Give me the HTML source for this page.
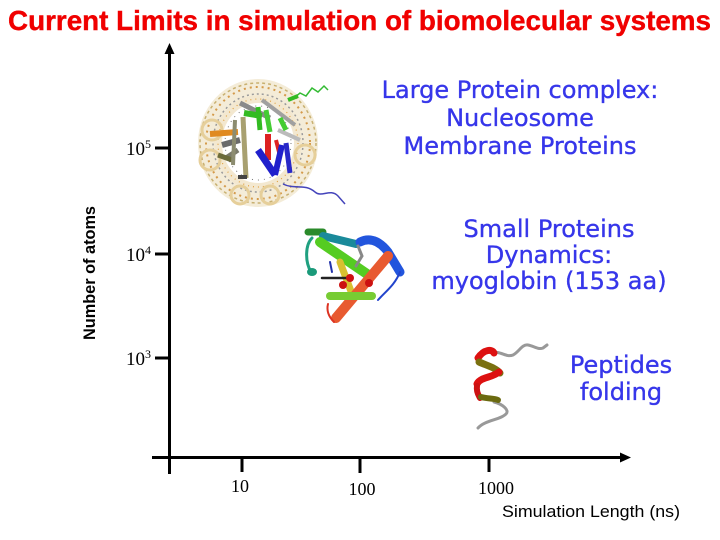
<!DOCTYPE html>
<html>
<head>
<meta charset="utf-8">
<style>
  html, body { margin: 0; padding: 0; background: #ffffff; }
  body { width: 720px; height: 540px; overflow: hidden; }
  svg { display: block; }
</style>
</head>
<body>
<svg width="720" height="540" viewBox="0 0 720 540" xmlns="http://www.w3.org/2000/svg">
  <rect x="0" y="0" width="720" height="540" fill="#ffffff"/>

  <!-- Title -->
  <text x="8" y="30" font-family="Liberation Sans, Arial, sans-serif" font-weight="bold" font-size="28" fill="#f00000" stroke="#f00000" stroke-width="0.4" textLength="703" lengthAdjust="spacingAndGlyphs">Current Limits in simulation of biomolecular systems</text>

  <!-- Axes -->
  <line x1="169.5" y1="51" x2="169.5" y2="474" stroke="#000" stroke-width="3"/>
  <polygon points="169.5,43 164.5,54 174.5,54" fill="#000"/>
  <line x1="152" y1="457.5" x2="622" y2="457.5" stroke="#000" stroke-width="3"/>
  <polygon points="631,457.5 620,452.5 620,462.5" fill="#000"/>

  <!-- Y ticks -->
  <line x1="155" y1="148" x2="170" y2="148" stroke="#000" stroke-width="3"/>
  <line x1="155" y1="254" x2="170" y2="254" stroke="#000" stroke-width="3"/>
  <line x1="155" y1="358" x2="170" y2="358" stroke="#000" stroke-width="3"/>

  <!-- X ticks -->
  <line x1="242" y1="457" x2="242" y2="472" stroke="#000" stroke-width="3"/>
  <line x1="360" y1="457" x2="360" y2="473" stroke="#000" stroke-width="3"/>
  <line x1="489" y1="457" x2="489" y2="472" stroke="#000" stroke-width="3"/>

  <!-- Y tick labels -->
  <g font-family="Liberation Serif, Times New Roman, serif" fill="#000">
    <text x="126" y="155" font-size="19">10</text><text x="145" y="148" font-size="12">5</text>
    <text x="126" y="261" font-size="19">10</text><text x="145" y="254" font-size="12">4</text>
    <text x="126" y="365" font-size="19">10</text><text x="145" y="358" font-size="12">3</text>
  </g>

  <!-- X tick labels -->
  <g font-family="Liberation Serif, Times New Roman, serif" fill="#000" font-size="18" text-anchor="middle">
    <text x="240" y="492">10</text>
    <text x="362" y="495">100</text>
    <text x="496" y="494">1000</text>
  </g>

  <!-- Axis titles -->
  <text x="502" y="517" font-family="Liberation Sans, Arial, sans-serif" font-size="17" fill="#000" textLength="178" lengthAdjust="spacingAndGlyphs">Simulation Length (ns)</text>
  <text transform="translate(95,340) rotate(-90)" font-family="Liberation Sans, Arial, sans-serif" font-weight="bold" font-size="16.5" fill="#000" textLength="134" lengthAdjust="spacingAndGlyphs">Number of atoms</text>

  <!-- Blue annotations -->
  <g font-family="DejaVu Sans, Verdana, sans-serif" font-size="24" fill="#3636ea" stroke="#3636ea" stroke-width="0.35" text-anchor="middle">
    <text x="520" y="98">Large Protein complex:</text>
    <text x="520" y="126">Nucleosome</text>
    <text x="520" y="154">Membrane Proteins</text>

    <text x="549" y="237">Small Proteins</text>
    <text x="549" y="263">Dynamics:</text>
    <text x="549" y="289">myoglobin (153 aa)</text>

    <text x="621" y="373">Peptides</text>
    <text x="621" y="400">folding</text>
  </g>

  <!-- Nucleosome illustration -->
  <g>
    <ellipse cx="258" cy="143" rx="52" ry="56" fill="none" stroke="#f4ecd8" stroke-width="16"/>
    <ellipse cx="258" cy="143" rx="52" ry="56" fill="none" stroke="#d49a4a" stroke-width="2" stroke-dasharray="2 4"/>
    <ellipse cx="258" cy="143" rx="58" ry="60" fill="none" stroke="#c8b070" stroke-width="1.5" stroke-dasharray="3 3"/>
    <ellipse cx="258" cy="143" rx="45" ry="49" fill="none" stroke="#9a9a9a" stroke-width="1.5" stroke-dasharray="2 3"/>
    <ellipse cx="258" cy="143" rx="40" ry="44" fill="none" stroke="#f3e8d0" stroke-width="8"/>
    <ellipse cx="258" cy="143" rx="40" ry="44" fill="none" stroke="#e0a040" stroke-width="1.2" stroke-dasharray="1 4"/>
    <ellipse cx="258" cy="143" rx="33" ry="37" fill="none" stroke="#777" stroke-width="1" stroke-dasharray="1 5"/>
    <circle cx="210" cy="160" r="10" fill="none" stroke="#e6cf9a" stroke-width="3"/>
    <circle cx="212" cy="130" r="10" fill="none" stroke="#e6cf9a" stroke-width="3"/>
    <circle cx="305" cy="155" r="10" fill="none" stroke="#e6cf9a" stroke-width="3"/>
    <circle cx="240" cy="195" r="9" fill="none" stroke="#e6cf9a" stroke-width="3"/>
    <circle cx="270" cy="195" r="9" fill="none" stroke="#e6cf9a" stroke-width="3"/>
    <!-- gray rods top -->
    <line x1="240" y1="103" x2="270" y2="118" stroke="#8a8a8a" stroke-width="5"/>
    <line x1="262" y1="100" x2="295" y2="125" stroke="#a0a0a0" stroke-width="4"/>
    <line x1="278" y1="130" x2="300" y2="140" stroke="#bbbbbb" stroke-width="4"/>
    <!-- orange -->
    <line x1="210" y1="134" x2="238" y2="132" stroke="#e08a20" stroke-width="6"/>
    <!-- gray rods left -->
    <line x1="222" y1="145" x2="240" y2="140" stroke="#6a6a6a" stroke-width="6"/>
    <line x1="226" y1="158" x2="238" y2="150" stroke="#7a7a6a" stroke-width="5"/>
    <line x1="218" y1="155" x2="232" y2="160" stroke="#6b6b3a" stroke-width="5"/>
    <!-- khaki vertical rods -->
    <line x1="243" y1="117" x2="246" y2="178" stroke="#a8a070" stroke-width="5"/>
    <line x1="235" y1="120" x2="233" y2="165" stroke="#8c8c70" stroke-width="4"/>
    <rect x="238" y="175" width="9" height="4" fill="#444"/>
    <!-- green bars -->
    <line x1="244" y1="113" x2="262" y2="116" stroke="#33bb22" stroke-width="6"/>
    <line x1="258" y1="107" x2="260" y2="130" stroke="#33bb22" stroke-width="5"/>
    <line x1="266" y1="110" x2="270" y2="132" stroke="#44cc33" stroke-width="5"/>
    <line x1="280" y1="118" x2="286" y2="130" stroke="#44cc33" stroke-width="5"/>
    <!-- red -->
    <line x1="268" y1="134" x2="268" y2="160" stroke="#dd2222" stroke-width="6"/>
    <line x1="276" y1="140" x2="280" y2="156" stroke="#dd2222" stroke-width="4"/>
    <!-- blue Y -->
    <line x1="258" y1="150" x2="275" y2="175" stroke="#2020cc" stroke-width="7"/>
    <line x1="275" y1="175" x2="282" y2="145" stroke="#2020cc" stroke-width="6"/>
    <line x1="286" y1="143" x2="290" y2="173" stroke="#2828c8" stroke-width="5"/>
    <!-- green tail -->
    <path d="M294,98 L300,93 L306,96 L312,88 L318,92 L324,86 L328,90" fill="none" stroke="#33bb33" stroke-width="1.5"/>
    <line x1="288" y1="100" x2="298" y2="96" stroke="#33bb22" stroke-width="4"/>
    <!-- blue tail -->
    <path d="M283,184 C295,190 305,183 315,192 C322,198 330,188 338,196 L345,204" fill="none" stroke="#4444bb" stroke-width="1.5"/>
  </g>

  <!-- Myoglobin illustration -->
  <g stroke-linecap="round">
    <path d="M312,238 C305,245 305,262 311,272" fill="none" stroke="#20a080" stroke-width="3"/>
    <ellipse cx="312" cy="272" rx="5" ry="4" fill="#1a9a7a"/>
    <line x1="308" y1="232" x2="323" y2="232" stroke="#2a8a2a" stroke-width="7"/>
    <line x1="323" y1="236" x2="356" y2="244" stroke="#1a8a9a" stroke-width="8"/>
    <line x1="320" y1="242" x2="370" y2="276" stroke="#55cc22" stroke-width="10"/>
    <line x1="340" y1="262" x2="352" y2="294" stroke="#d8c030" stroke-width="7"/>
    <path d="M360,242 C372,236 382,244 388,252 L400,272" fill="none" stroke="#2255dd" stroke-width="9"/>
    <path d="M400,272 C395,285 385,292 378,300" fill="none" stroke="#2244cc" stroke-width="2"/>
    <line x1="388" y1="256" x2="336" y2="318" stroke="#e85a30" stroke-width="10"/>
    <line x1="330" y1="296" x2="372" y2="296" stroke="#77cc33" stroke-width="8"/>
    <path d="M328,304 C326,312 330,318 334,322" fill="none" stroke="#dd3322" stroke-width="2"/>
    <path d="M358,246 L362,256 L356,266" fill="none" stroke="#888" stroke-width="3"/>
    <line x1="322" y1="278" x2="348" y2="278" stroke="#222" stroke-width="2.5"/>
    <line x1="330" y1="262" x2="332" y2="272" stroke="#2233aa" stroke-width="2"/>
    <circle cx="350" cy="278" r="4" fill="#cc1111"/>
    <circle cx="343" cy="285" r="4" fill="#cc1111"/>
    <circle cx="369" cy="283" r="4" fill="#cc1111"/>
  </g>

  <!-- Peptide illustration -->
  <g stroke-linecap="round" fill="none">
    <path d="M492,353 C500,350 506,358 513,355 C519,352 522,344 528,345 C534,346 538,350 543,348 L547,345" stroke="#999" stroke-width="3"/>
    <path d="M494,402 C502,404 510,410 506,414 C500,420 485,420 478,428" stroke="#999" stroke-width="3"/>
    <path d="M478,358 C484,349 492,349 494,353" stroke="#dd1111" stroke-width="7"/>
    <path d="M479,362 C488,366 496,368 500,373" stroke="#7a7010" stroke-width="7"/>
    <path d="M499,372 C492,378 480,377 477,384" stroke="#dd1111" stroke-width="7"/>
    <path d="M477,386 C476,392 479,396 480,398" stroke="#cc1111" stroke-width="6"/>
    <path d="M481,397 C488,399 494,398 498,400" stroke="#6b6a10" stroke-width="6"/>
  </g>
</svg>
</body>
</html>
